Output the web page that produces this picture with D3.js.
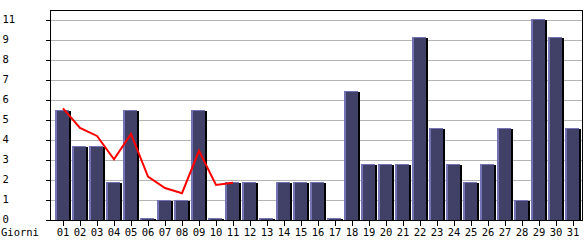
<!DOCTYPE html>
<html>
<head>
<meta charset="utf-8">
<script src="https://cdn.jsdelivr.net/npm/d3@7"></script>
<style>
  body { margin: 0; background: #fff; }
  text { font-family: "DejaVu Sans Mono", monospace; font-size: 10.5px; fill: #000; }
</style>
</head>
<body>
<div id="chart"></div>
<script>
// days of the month
var days = ['01','02','03','04','05','06','07','08','09','10','11','12','13','14','15','16',
  '17','18','19','20','21','22','23','24','25','26','27','28','29','30','31'];

// daily values (bars)
var values = [6, 4, 4, 2, 6, 0, 1, 1, 6, 0, 2, 2, 0, 2, 2, 2, 0, 7, 3, 3, 3, 10, 5, 3, 2, 3, 5, 1, 11, 10, 5];

// red trend line, only the first days
var trend = [6.07, 4.98, 4.54, 3.25, 4.65, 2.29, 1.66, 1.37, 3.72, 1.83, 1.95];

// y tick labels (evenly spaced up to 11, printed rounded down)
var yTickLabels = ['0', '1', '2', '3', '4', '5', '6', '7', '8', '9', '11'];
var yMax = 11;

var width = 585, height = 240;
var mLeft = 50, mRight = 582, mTop = 10, mBottom = 220;

var svg = d3.select('#chart').append('svg')
  .attr('width', width)
  .attr('height', height);

var x = d3.scaleBand()
  .domain(days)
  .range([55, 581])
  .paddingInner(1 / 17)
  .paddingOuter(0);

// axis / grid scale
var y = d3.scaleLinear()
  .domain([0, yMax])
  .range([mBottom, mTop + 10]);

// bars sit 2px above the axis line (empty days keep a 2px stub)
var yBar = d3.scaleLinear()
  .domain([0, yMax])
  .range([mBottom - 2, mTop + 9.2]);

var yTicks = yTickLabels.map(function (d, i) { return i * yMax / (yTickLabels.length - 1); });

// grid lines
svg.append('g')
  .selectAll('line')
  .data(yTicks.slice(1))
  .enter().append('line')
  .attr('x1', mLeft)
  .attr('x2', mRight)
  .attr('y1', function (d) { return Math.round(y(d)) + 0.5; })
  .attr('y2', function (d) { return Math.round(y(d)) + 0.5; })
  .attr('stroke', '#b4b4b4')
  .attr('stroke-width', 1);

// bars
var bw = x.bandwidth();
var bars = svg.append('g').attr('shape-rendering', 'crispEdges')
  .selectAll('g')
  .data(values)
  .enter().append('g');

function barTop(d) { return Math.round(yBar(d)); }

bars.append('rect') // black shadow on the right
  .attr('x', function (d, i) { return Math.round(x(days[i])) + bw - 2; })
  .attr('y', function (d) { return barTop(d) + 1; })
  .attr('width', 2)
  .attr('height', function (d) { return mBottom - barTop(d) - 1; })
  .attr('fill', '#000');

bars.append('rect') // light edge
  .attr('x', function (d, i) { return Math.round(x(days[i])); })
  .attr('y', function (d) { return barTop(d); })
  .attr('width', bw - 2)
  .attr('height', function (d) { return mBottom - barTop(d); })
  .attr('fill', '#7474b4');

bars.append('rect') // body
  .attr('x', function (d, i) { return Math.round(x(days[i])) + 2; })
  .attr('y', function (d) { return barTop(d) + 1; })
  .attr('width', bw - 4)
  .attr('height', function (d) { return Math.max(0, mBottom - barTop(d) - 1); })
  .attr('fill', '#414168');

// trend line
var line = d3.line()
  .x(function (d, i) { return x(days[i]) + bw / 2; })
  .y(function (d) { return yBar(d); });

svg.append('path')
  .datum(trend)
  .attr('d', line)
  .attr('fill', 'none')
  .attr('stroke', '#ff0000')
  .attr('stroke-width', 2);

// frame
var frame = svg.append('g').attr('shape-rendering', 'crispEdges');
frame.append('path')
  .attr('d', 'M' + (mLeft + 0.5) + ',' + mBottom + 'V' + (mTop + 0.5) + 'H' + (mRight + 0.5) + 'V' + mBottom)
  .attr('fill', 'none')
  .attr('stroke', '#000');

// y axis
var yAxis = svg.append('g')
  .attr('transform', 'translate(' + (mLeft + 0.5) + ',0)')
  .call(d3.axisLeft(y).tickValues(yTicks).tickSize(5)
    .tickFormat(function (d, i) { return yTickLabels[i]; }));
yAxis.select('.domain').remove();
yAxis.selectAll('.tick line').attr('stroke', '#000').attr('shape-rendering', 'crispEdges');
yAxis.selectAll('.tick text')
  .attr('x', -mLeft + 2)
  .attr('y', -1)
  .attr('text-anchor', 'start')
  .attr('font-family', null).attr('font-size', null);

// x axis
var xAxis = svg.append('g')
  .attr('transform', 'translate(0,' + (mBottom + 0.5) + ')')
  .call(d3.axisBottom(x).tickSize(5).tickSizeOuter(0));
xAxis.select('.domain')
  .attr('d', 'M' + mLeft + ',0H' + (mRight + 1))
  .attr('stroke', '#000')
  .attr('shape-rendering', 'crispEdges');
xAxis.selectAll('.tick line').attr('stroke', '#000').attr('shape-rendering', 'crispEdges');
xAxis.selectAll('.tick text').attr('y', 8.5).attr('font-family', null).attr('font-size', null);

svg.append('text')
  .attr('x', 1)
  .attr('y', 236)
  .text('Giorni');
</script>
</body>
</html>
